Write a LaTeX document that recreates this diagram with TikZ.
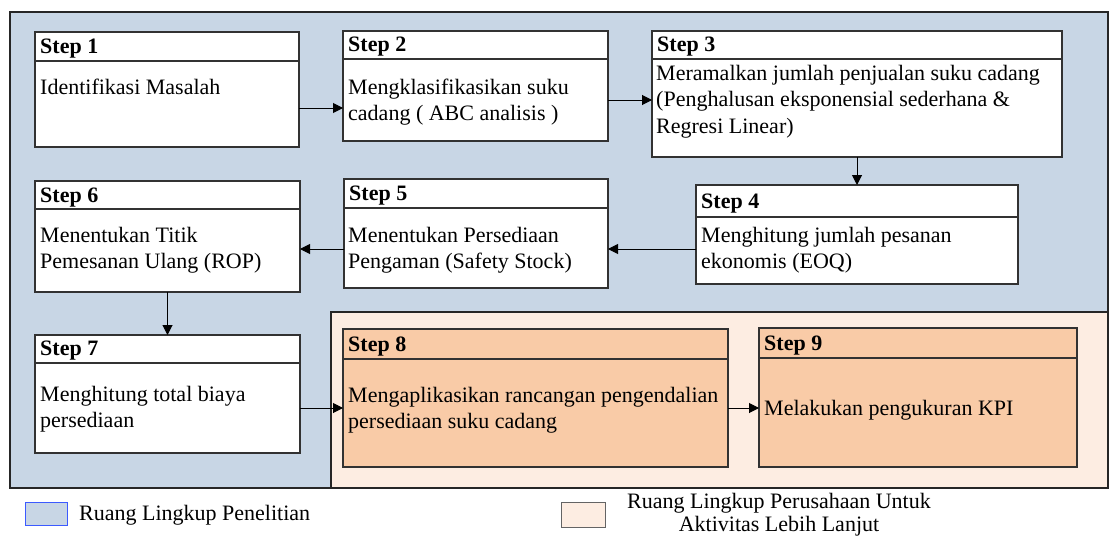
\documentclass[tikz,border=0pt]{standalone}
\usepackage{fontspec}
\setmainfont{Liberation Serif}
\usetikzlibrary{arrows.meta}
\definecolor{blueBG}{RGB}{200,214,229}
\definecolor{peachBG}{RGB}{253,237,226}
\definecolor{peachBox}{RGB}{249,203,167}
\definecolor{boxLine}{RGB}{50,50,50}
\definecolor{legBlue}{RGB}{60,90,255}
\definecolor{legGray}{RGB}{100,100,100}
\newcommand{\linesL}[1]{\begin{tabular}[t]{@{}l@{}}#1\end{tabular}}
\newcommand{\linesC}[1]{\begin{tabular}[t]{@{}c@{}}#1\end{tabular}}
\tikzset{
  region/.style={draw=black!85, line width=1.1pt, inner sep=0pt, outer sep=0pt, anchor=north west},
  boxsty/.style={draw=boxLine, line width=1.1pt, inner sep=0pt, outer sep=0pt, anchor=north west},
  divline/.style={draw=boxLine, line width=1.1pt},
  titlesty/.style={inner sep=0pt, anchor=base west, font=\fontsize{22}{26.5}\selectfont\bfseries},
  bodysty/.style={inner sep=0pt, anchor=base west, font=\fontsize{22}{26.5}\selectfont},
  arr/.style={draw=black, line width=1pt, -{Triangle[length=10pt,width=10pt]}},
  legsty/.style={inner sep=0pt, font=\fontsize{22}{25}\selectfont},
}
% name, left, top, right, bottom, divider y, title, fill, title baseline
\newcommand{\mkstep}[9]{%
  \node[boxsty, fill=#8, minimum width={#4-#2}, minimum height={#5-#3}] (#1) at (#2,#3) {};
  \draw[divline] (#1.west |- 0,#6) -- (#1.east |- 0,#6);
  \node[titlesty] (#1t) at (#2+5,#9) {#7};
}
\begin{document}
\begin{tikzpicture}[x=1pt,y=-1pt]
\useasboundingbox (0,0) rectangle (1110,535);
% regions
\node[region, fill=blueBG, minimum width=1098, minimum height=476] (scopeA) at (10,12) {};
\node[region, fill=peachBG, minimum width=777, minimum height=176] (scopeB) at (331,312) {};
% step boxes
\mkstep{s1}{35}{32}{299}{147}{61}{Step 1}{white}{53}
\mkstep{s2}{343}{31}{608}{141}{59}{Step 2}{white}{52}
\mkstep{s3}{652}{31}{1062}{157}{59}{Step 3}{white}{52}
\mkstep{s4}{696}{185}{1018}{284}{217}{Step 4}{white}{208}
\mkstep{s5}{344}{179}{608}{288}{208}{Step 5}{white}{200}
\mkstep{s6}{35}{181}{300}{292}{209}{Step 6}{white}{202}
\mkstep{s7}{35}{335}{300}{453}{363}{Step 7}{white}{355}
\mkstep{s8}{343}{329}{728}{467}{359}{Step 8}{peachBox}{351}
\mkstep{s9}{759}{328}{1077}{467}{358}{Step 9}{peachBox}{350}
% body texts
\node[bodysty] (b1) at (40,94) {Identifikasi Masalah};
\node[bodysty] (b2) at (348,94) {\linesL{Mengklasifikasikan suku\\cadang ( ABC analisis )}};
\node[bodysty] (b3) at (656,80) {\linesL{Meramalkan jumlah penjualan suku cadang\\(Penghalusan eksponensial sederhana \&\\Regresi Linear)}};
\node[bodysty] (b4) at (701,242) {\linesL{Menghitung jumlah pesanan\\ekonomis (EOQ)}};
\node[bodysty] (b5) at (348,242) {\linesL{Menentukan Persediaan\\Pengaman (Safety Stock)}};
\node[bodysty] (b6) at (40,242) {\linesL{Menentukan Titik\\Pemesanan Ulang (ROP)}};
\node[bodysty] (b7) at (40,401) {\linesL{Menghitung total biaya\\persediaan}};
\node[bodysty] (b8) at (348,402) {\linesL{Mengaplikasikan rancangan pengendalian\\persediaan suku cadang}};
\node[bodysty] (b9) at (764,415) {Melakukan pengukuran KPI};
% arrows
\draw[arr] (s1.east |- 0,108) -- (s2.west |- 0,108);
\draw[arr] (s2.east |- 0,100) -- (s3.west |- 0,100);
\draw[arr] (s3.south) -- (s4.north);
\draw[arr] (s4.west |- 0,249) -- (s5.east |- 0,249);
\draw[arr] (s5.west |- 0,249) -- (s6.east |- 0,249);
\draw[arr] (s6.south) -- (s7.north);
\draw[arr] (s7.east |- 0,408) -- (s8.west |- 0,408);
\draw[arr] (s8.east |- 0,408) -- (s9.west |- 0,408);
% legend
\node[draw=legBlue, fill=blueBG, line width=1pt, inner sep=0pt, minimum width=42, minimum height=23, anchor=north west] (legA) at (25,502) {};
\node[legsty, anchor=base west] (legAt) at (79,520) {Ruang Lingkup Penelitian};
\node[draw=legGray, fill=peachBG, line width=1pt, inner sep=0pt, minimum width=44, minimum height=25, anchor=north west] (legB) at (561,502) {};
\node[legsty, anchor=base] (legBt) at (779,508) {\fontsize{22}{23}\selectfont\linesC{Ruang Lingkup Perusahaan Untuk\\Aktivitas Lebih Lanjut}};
\end{tikzpicture}
\end{document}
